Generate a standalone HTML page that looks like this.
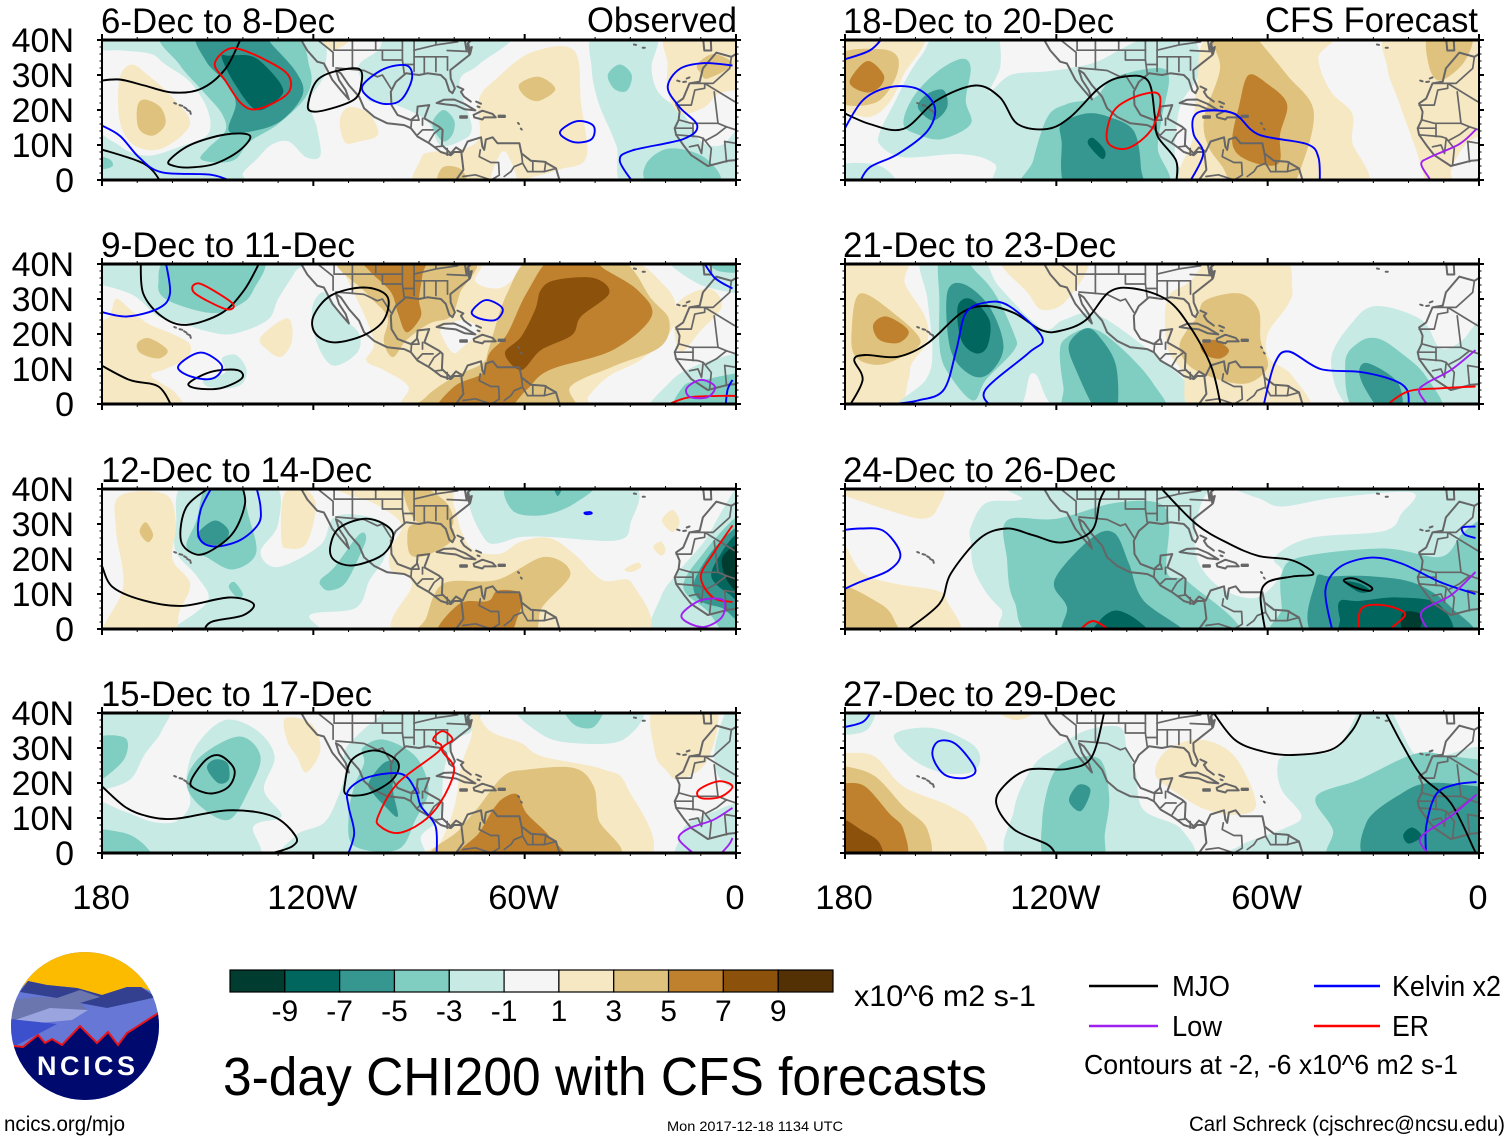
<!DOCTYPE html>
<html lang="en">
<head>
<meta charset="utf-8">
<title>3-day CHI200 with CFS forecasts</title>
<style>
html,body{margin:0;padding:0;background:#fff;}
svg{display:block;}
text{font-family:"Liberation Sans",sans-serif;fill:#000;}
</style>
</head>
<body>
<svg id="root" xmlns="http://www.w3.org/2000/svg" width="1510" height="1141" viewBox="0 0 1510 1141">
  <defs><clipPath id="logo-clip"><circle cx="85" cy="1026" r="74"/></clipPath></defs>
  <g id="panels"></g>
  <g id="colorbar"></g>

  <g clip-path="url(#logo-clip)">
    <rect x="10" y="951" width="150" height="150" fill="#6677d5"/>
    <path d="M10 951H160V995L141 987L127 987L102 995L77 988L47 985L28 981L10 1000Z" fill="#fdbb00"/>
    <path d="M28 981L47 985L77 988L102 995L127 987L141 987L160 1000L157 997L107 1008L80 1003L57 998L20 992Z" fill="#333f8f"/>
    <path d="M12 1020L12 1000L37 997L57 998L80 990L100 997L80 1003L88 1010L50 1012L15 1021Z" fill="#6a76ad"/>
    <path d="M15 1020L50 1008L88 1010L72 1020L17 1025Z" fill="#9aa5e0"/>
    <path d="M10 1019L57 1024L17 1045L10 1045Z" fill="#3c4fcc"/>
    <path d="M10 1047L23 1047L38 1035L45 1043L52 1039L62 1045L80 1026L97 1043L108 1032L118 1045L127 1033L160 1012V1105H10Z" fill="#000a6e"/>
    <path d="M14 1046L23 1047L38 1035L45 1043L52 1039L62 1045L80 1026L97 1043L108 1032L118 1045L127 1033L160 1012" fill="none" stroke="#e8141c" stroke-width="2"/>
    <text x="86" y="1075" text-anchor="middle" font-size="27" font-weight="bold" style="fill:#fff" textLength="98" lengthAdjust="spacing">NCICS</text>
  </g>

  <text x="223" y="1095" font-size="54" textLength="764" lengthAdjust="spacingAndGlyphs">3-day CHI200 with CFS forecasts</text>
  <text x="854" y="1006" font-size="30" textLength="182" lengthAdjust="spacingAndGlyphs">x10^6 m2 s-1</text>

  <line x1="1089" y1="986" x2="1158" y2="986" stroke="#000" stroke-width="2.5"/>
  <text x="1172" y="996" font-size="29" textLength="58" lengthAdjust="spacingAndGlyphs">MJO</text>
  <line x1="1314" y1="986" x2="1380" y2="986" stroke="#0000ff" stroke-width="2.5"/>
  <text x="1392" y="996" font-size="29" textLength="109" lengthAdjust="spacingAndGlyphs">Kelvin x2</text>
  <line x1="1089" y1="1026" x2="1158" y2="1026" stroke="#a020f0" stroke-width="2.5"/>
  <text x="1172" y="1036" font-size="29" textLength="50" lengthAdjust="spacingAndGlyphs">Low</text>
  <line x1="1314" y1="1026" x2="1380" y2="1026" stroke="#ff0000" stroke-width="2.5"/>
  <text x="1392" y="1036" font-size="29" textLength="37" lengthAdjust="spacingAndGlyphs">ER</text>
  <text x="1084" y="1074" font-size="28" textLength="374" lengthAdjust="spacingAndGlyphs">Contours at -2, -6 x10^6 m2 s-1</text>

  <text x="4" y="1131" font-size="21" textLength="121" lengthAdjust="spacingAndGlyphs">ncics.org/mjo</text>
  <text x="667" y="1131" font-size="14" textLength="176" lengthAdjust="spacingAndGlyphs">Mon 2017-12-18 1134 UTC</text>
  <text x="1189" y="1131" font-size="21" textLength="316" lengthAdjust="spacingAndGlyphs">Carl Schreck (cjschrec@ncsu.edu)</text>
</svg>

<script>
// All longitudes are degrees east of the date line (0 = 180, 60 = 120W, 120 = 60W, 180 = 0); latitudes in degrees N.
const lonTicks = [0, 60, 120, 180];
const lonTickLabels = ['180', '120W', '60W', '0'];
const latTicks = [0, 10, 20, 30, 40];
const latTickLabels = ['0', '10N', '20N', '30N', '40N'];
const colorbarLevels = [-5, -4, -3, -2, -1, 0, 1, 2, 3, 4, 5];
const colorbarTicks = ['-9', '-7', '-5', '-3', '-1', '1', '3', '5', '7', '9'];
const levelColors = ['#003c30', '#01665e', '#35978f', '#80cdc1', '#c7eae5', '#f5f5f5', '#f6e8c3', '#dfc27d', '#bf812d', '#8c510a', '#543005'];
const panelTitles = ['6-Dec to 8-Dec', '9-Dec to 11-Dec', '12-Dec to 14-Dec', '15-Dec to 17-Dec', '18-Dec to 20-Dec', '21-Dec to 23-Dec', '24-Dec to 26-Dec', '27-Dec to 29-Dec'];
const panelTitleWidths = [234, 254, 271, 271, 271, 273, 273, 273];

// Filled contour regions: [level, [lon, lat, lon, lat, ...]]
const fills1 = [
 [-1,[-3,42,-3,37.5,6,37,14,36,18,33,25,28,30,20,30,13,22,9.5,14,7,8,8,3,11,-3,13,-3,-3,38,-3,40,2,44,6,48,10,53,11,58,6.5,62,7,61,15,59,22.7,63.5,32,56,42]],
 [-1,[116,42,107,33,101.5,28,105,15,101.5,11,96,10,93,16,89,19,82.5,21.7,75.7,22.7,73.6,28.4,73,33,78.4,37,84,42]],
 [-1,[140,42,139,32,141,22,146,10,150,-3,183,-3,183,16,176,10,170,11,167,16,164,20,158,25,156,32,157,42]],
 [-2,[18,42,22,33,29,25,34,19,35,14,30,9,28,6,33,5,38,6,42,11,50,16,58,24,59,32,52,42]],
 [-2,[94,17,97,20,100,17,99.5,13,97,11,94.4,14]],
 [-2,[143.6,30,147,33,150.4,30,149,25.5,145.5,26]],
 [-2,[154.5,4.6,161,9,171,6.5,175,-1,156,-1]],
 [-2,[-3,7,2,6,3,4,0,3,-3,3]],
 [-3,[27.5,42,29.5,34,35,28,38,22,36,14,43,14,51,17,57,24.5,55,31,48,39,46,42]],
 [-4,[34,35,38,27,44,20,50.5,23.6,51,27,46,33,42,35.5,36,35.5]],
 [1,[5,29,8.4,33,13,30,20,23.6,25,16,17,9,9,10,5,17]],
 [2,[10,20.8,12,23,16.6,20.8,18,16,14.5,12.7,10.5,14.6]],
 [1,[134,37,136,22,137.5,6.5,130,3,120,0,118,-3,90,-3,90.5,6,93.5,8,101,8.5,107,12,107,23,112,29,122,36.5]],
 [0,[110.4,-2,112.5,6.5,115,7.5,118,-2]],
 [2,[118.5,27.4,124,29.5,128.7,26,124,22.6,120,24]],
 [2,[95.4,-2,96.7,3.6,102,3,103.5,-2]],
 [1,[161,42,160.6,33,160.6,25.5,164,19,171,20.8,175,24.6,183,28,183,42]],
 [2,[169,33,173.6,36,179,33,172,29,170,30.5]],
 [1,[62,41,65,37,70,39.5,70,42,62,42]],
 [1,[67.5,17,70,20.8,75.7,19,78.4,13,73,11,69,10.8]]
];
const fills2 = [
 [-1,[-3,42,57,42,55,38,50,30,47,24,37,20,29,21,23,23,16,25,9,31,0,34,-3,34]],
 [-1,[62,31.7,59.6,26.9,61,17.4,65.6,11,72.4,14.6,73,20,68.4,24.9,64.7,30.6]],
 [-1,[35,9,34,13,38,14,41,10,40,6,36,4.5,30,5,29,7]],
 [-1,[156,-3,161,6,168,10.7,180,14.5,183,15,183,-3]],
 [-1,[161,42,169,34.5,180,31.6,183,31,183,42]],
 [-2,[20,42,16,34.5,18.6,29.7,31,26,39,28.3,43,32.6,45,42]],
 [-2,[163,-3,165,5,171,6.9,180,8.8,183,9,183,-3]],
 [-2,[171,42,175,38,183,38,183,42]],
 [1,[-3,20,2,25,4,30,8,27,13,23,20,20,25,17,24,13,18,10,14,8,21,3,22,-3,-3,-3]],
 [2,[10,17.3,13.4,18.8,18.6,15.4,16,13,11,14.5]],
 [1,[45,19,52.6,24.5,54,18.3,51,13.5,47,15.4]],
 [1,[66,42,68,39,77,19,75,12.5,80,9.7,87,5,88,-3,136,-3,138,2,144,8,153,12.6,161,20,163,27,160,33.5,148,42,123,42,116.5,35.4,112,33,106,35,105,42]],
 [0,[96.5,21.7,102.5,24,107,21,102.5,16.3,99.7,14.6,96.8,18.9]],
 [1,[163,28,172,33,176,28,170,21,164,15]],
 [2,[67.6,42,75,31.7,81,25,80,18,82.6,13.4,86.5,18.3,93,23,99,25,101.6,31.7,104.5,42]],
 [2,[123,42,115,31.6,110,16.4,108,11.6,100,7.8,92,2,90.5,-3,132,-3,133,5,145,10.7,158.6,16.4,161,24,156,30,146,42]],
 [3,[74,42,76,38,82,32,84,26,86.5,20.5,90.5,25,90,30,91,37,91,42]],
 [3,[139.6,42,128,42,120.5,31.6,115,20,110,14.5,108,8.8,100,5,95,-3,112.4,-3,120.5,4,127,9.7,145,15.4,156,25,152,32.6,142,39]],
 [4,[124.6,32.6,128.7,35.4,139.6,36,144,31.6,136,25,133.4,19.7,124.6,15.4,119,9.7,114.4,14.5,119,19.2,123,27]]
];
const fills3 = [
 [-1,[24,42,21,30,21,22,27,15,30,8,20,0,18,-3,61,-3,59,4,72,6,76,14,80,20,82,28,76,32,66,32,62,24,50,17.7,45,22,50,30,48,42]],
 [-1,[107,42,109,25.3,119,26.3,127,26.3,146,25.3,150,30,149,42]],
 [-1,[157,-3,158.6,9,164,16.8,171,25,175,32,180,40,183,40,183,-3]],
 [-2,[30,42,26.8,31,24,23.4,29.5,20.6,37,17,43.7,21.5,41.7,32,38.3,42]],
 [-3,[27,27,32,31,36,28,34,24.4,29.5,24.4]],
 [-2,[36,12,37.6,13.4,40,10,38.4,9]],
 [-2,[62,14,66,17.7,73,27,75,26,73,20.6,69,13,64.7,11,62.5,12]],
 [-2,[116,42,116.5,33.9,125,32.5,134,35.8,139.5,42]],
 [-3,[128,42,129.4,38,131,42]],
 [-2,[165,12,171,22,180,32,183,32,183,-3,178,-3,172,5]],
 [-3,[168,13,173,22,180,29,183,29,183,3,176,6,170,8]],
 [-4,[173,15,176,22,180,27,183,27,183,8,178,10]],
 [-5,[176,20,180,24,183,24,183,10,178,13]],
 [1,[5,38,18,38.5,21,30,20,20,25,13,22,5,19,-3,0,-3,6,12,4,28]],
 [2,[10.7,27.7,12.4,30.5,14.5,27,13,24.8]],
 [1,[51,35,52.6,39.6,58,39.6,60.7,35,58,24.4,52.6,23,51,25]],
 [1,[65,42,69,38.7,77,36,85,30,82,23,82,17,88,13,86,-3,151,-3,150.5,13,142,14,134,21.5,127,26,119,25,113,21.5,105.6,22.5,102,28,100,35,96,42]],
 [2,[87,28.7,90.6,30,98.7,29.6,99.4,25.3,92,21,87.4,21.5]],
 [2,[85,42,89,31,99,29,98,35.8,89,42]],
 [2,[90,-3,92,3,97,13,112,14,125.6,20.6,133,15.8,125,6.3,120,-3]],
 [3,[95.4,-2,101.5,7.2,109.6,8,112.4,11,119,10,118,3.4,113.7,-2]],
 [1,[159,31,162,34,164,30.6,162,27.7]],
 [1,[156.5,23.4,158.7,25,160,22.5,158.7,21]],
 [1,[148.4,17,152,19,153,17.7,150.4,16.3]]
];
const fills4 = [
 [-1,[-3,42,18,42,17,35,12,28,8,21,0,18,-3,18]],
 [-1,[27,31,35,38,44,35,49,27.6,46,18,51,10.5,43,7.6,42,-3,-3,-3,-3,14,6,12,14,9,21,9,25,14,24,22]],
 [-1,[52,-3,55,5,63,8.6,67,16,69,23,69,29.5,74,35,80,40,82,42,106,42,105,35,100,32,97,23,96,10.5,90.6,4.8,89,-3]],
 [-1,[119,42,124.6,34,134,31.4,148,32.4,152,42]],
 [-1,[183,42,178,42,174,30,175,22,180,18,183,18]],
 [-1,[164,-2,164,4,166.6,8.6,175,12.4,180,14.3,183,15,183,-2]],
 [-2,[131.4,42,134,36.7,139.6,36,142,42]],
 [-2,[-3,32,6.4,33,6.4,27,0,21,-3,20]],
 [-2,[-3,6,5,6,10,4,14,0,15,-3,-3,-3]],
 [-2,[24,20,28,27.6,39,33.3,45,27.6,41.7,18,36,9.5,28,13.3]],
 [-3,[29.8,24.3,32,26.7,35.6,25.7,36,21,33,20]],
 [-2,[74,30,80,32.4,89,27.6,92.7,18,89,9.5,84,1,71.6,2,70,10.5,71.6,19,74.4,25.7]],
 [-3,[75.7,20,80,25.7,84,25.7,82.5,19,84,10.5,80.4,13.3,77,17]],
 [1,[52,38.5,59.4,37,62,29.5,58,23,55.3,27.6,52.6,32]],
 [1,[105,42,110,35,119,31.4,125,27.6,142,24,149,19,153,-3,91,-3,96,3,100,13,102,25,105,34]],
 [2,[95.4,-2,101.5,6.7,107,13.3,114,22,120.5,23.8,134,24.3,139.6,19,141,9.5,145,-2]],
 [3,[101.5,-2,107,5.7,111,12.4,114,15.7,118,16.7,120.5,11.4,127,4.8,130,-2]],
 [1,[157,42,157,28.6,160,23.8,164,21,172,26.7,174,42]]
];
const fills5 = [
 [1,[-3,42,22,42,16.6,30,12.5,22,7,18,0,19.5,-3,20]],
 [2,[-2,35.5,9.8,37.4,15,35,14,28.4,8.4,22,-2,22.7]],
 [3,[1.6,29,6.4,34,11,30,9.8,26.5,6.4,25,2.3,26.5]],
 [-1,[27,42,22,36,18,30,14,22,10,14,10,10,16.6,6.5,33,7.4,42.5,4.6,46.6,-3,98,-3,94,5,94,14,95.5,22,100,29,101,35,97,42,84,40,72,34,64,32,57,31,47,30,41,25,44,32,44,39,43,42]],
 [-1,[-3,4,10,4,14.5,-3,-3,-3]],
 [-2,[16.6,16,19.3,23.6,26,30.8,33,34.6,35.7,32,34.3,22.7,35.7,16,27.5,11.7,20.7,13]],
 [-3,[20.7,20.8,23.4,24.6,28,25.7,29,20.8,25,17]],
 [-2,[52,-3,53.4,5.5,57.5,18,63,21.7,71,23.6,76.5,29.3,88.8,32,92,29,90,18,88.8,9,90,-3]],
 [-3,[63.6,-3,61.5,11,61.5,16,68.4,19,75,18,82,14,84,3.6,83,-3]],
 [-4,[69,10.3,70.4,12,73.8,8.4,73,6]],
 [1,[105,42,100,27.4,99,13,98,-3,146,-3,144,11,144,19,137.8,25.5,134.4,35,138,42]],
 [2,[104,42,106.5,32,102,18,103,10,107,4,112,-3,125,-3,130,5,133,20,125.5,30,117.4,40,116,42]],
 [3,[114.6,30,120,27.4,125.5,21.7,123.5,13,123,4.6,114.6,5.5,110,10.3,112,21.7]],
 [1,[155,42,154,32,157,23,162,9,166.5,-3,175,-3,172,2,176,10,183,17,183,42]],
 [2,[166,42,165.7,33,169,28.4,176,34,177.6,42]]
];
const fills6 = [
 [1,[-3,42,17,42,17,34.5,22.7,25,23.4,18,19,11.6,18,7,14,-3,-3,-3]],
 [2,[1.9,21,4.4,31.6,15,25,21.4,18.3,18,14.5,9.8,11.2,3,13.5]],
 [3,[8,22.6,11.8,25,18,21,15.3,17.5,9.8,18.3]],
 [-1,[22,42,23.4,30,24.8,15.4,23,7,14,-3,46.6,-3,53.4,8.8,63,-3,100,-3,98,5,85,16.4,71,25.7,62,24,56,21.6,43.8,33.5,38,42]],
 [1,[44.5,42,52,31.6,56,26.9,63,29.7,68.4,42]],
 [-2,[26.8,42,26.8,29.7,27,15,30,7.8,36.4,1,40,6.9,48,15.4,48,20,42.5,31.6,37,38,33,42]],
 [-3,[29,31.6,33.6,34.3,41,27.8,45,16.4,41,8.8,35.7,8.3,30,15.4]],
 [-4,[32,27.8,35.7,30,41,24,40.4,16.4,37,14.5,33,18.3]],
 [-2,[61,15,63,19,70,21.6,78,16.4,87.4,6,90,-3,64,-3,62,5]],
 [-3,[63.6,17,68.4,21.6,72.4,19,77,10.7,77,-3,72,-3,65.6,9.7]],
 [1,[105,42,98,35,91.5,30,91.5,16.4,96,8.8,100,-3,131,-3,127,8,120.5,13,120,20,125.5,28,127,33,124,42]],
 [2,[100,25,102.4,29.7,112,31.6,117.4,27,118,18.3,120,10.7,114.6,6,106.5,6.9,98,10.7,95,17]],
 [3,[101,16.9,105,18.3,109,15.4,106.5,13,102.4,14]],
 [-1,[138,11.6,144.6,24,151.4,28,163.7,24,169,16,175,18,180,24,183,24,183,-3,147,-3]],
 [-2,[142,11.6,146,17.7,151.4,18.7,158,14.5,165,7.8,169,-3,146,-3]],
 [-3,[146,9.7,148.7,11.6,157,6,158,-3,153,-3,147.6,4.5]]
];
const fills7 = [
 [1,[-3,42,26,42,26,34,22,31.5,14,33.4,0,38,-3,38.5]],
 [1,[-3,26,0,24,5,16,14,13,26,11,29,8,31,-3,-3,-3]],
 [2,[-2,12,10,7.2,14,2.5,14,-2,-2,-2]],
 [-1,[57,42,183,42,183,-3,58,-3,44,6,37,16,35.7,25,35.7,29,40,36,50,37]],
 [0,[105,40.5,100,32,100,20,107,11.5,117,9,124,16,122,20.5,132,26,153,28,158,33,161,39,139,37.5,124,35,117,37.5]],
 [-2,[46,31,60,31.5,76.5,36,89,36,92,30,91.5,16,98,13,111,-3,57.5,-3,48,8,46,20]],
 [-2,[124,15.8,129.6,20.6,153,23,169,20.6,175,27,180,31,183,31,183,-3,125,-3,124,6]],
 [-3,[59.5,14,70,26,76.5,27.4,80.6,18.7,84.7,8.2,97,-3,64,-3,63,6.3]],
 [-4,[72.4,2.5,77,5.3,83,2.5,86,-2,71,-2]],
 [-3,[133.7,14,138,15,150,15,162,13,172,6.3,177,-3,135,-3]],
 [-4,[140.5,8,146,8,157,9,168.7,7,171,-3,143,-3,140.5,3]],
 [-4,[141.7,13.5,146,13,149,11,146,10.5]],
 [-5,[158,4,161,5,164,3.4,162,-2,158.5,-2]]
];
const fills8 = [
 [-1,[-3,42,8,42,6,35,-3,34.5]],
 [-1,[14,33.8,24.8,35.7,35.7,31.4,38.4,26.7,35.7,23,27.5,23,19.3,26.7]],
 [1,[41.8,41,48,38,53,39.5,54,42,41,42]],
 [1,[-3,28.6,0,28.6,8.4,27.6,16.6,19,30,13.3,37,7.6,37.3,-3,-3,-3]],
 [2,[-3,24.8,0,24.8,8.4,22,16.6,13.3,23.4,6.7,22,-3,-3,-3]],
 [3,[-3,20,0,20,5.7,19,12.5,11.4,16.6,6.7,16.3,-3,-3,-3]],
 [4,[-3,9.5,0,9.5,4.4,6.7,9.8,2.9,9.8,-3,-3,-3]],
 [-1,[48,12.4,53.4,24.8,60,30,68.4,35,78,36,80,30,82.6,22.7,84.7,12.4,95.6,6.7,95.6,-3,49,-3]],
 [-2,[56,9.3,58.8,22,64,26.7,72.4,26.7,75,16.2,73.8,5.7,72.4,-3,57.5,-3]],
 [-3,[63.6,15,66.3,19.5,69.7,18,67,12]],
 [1,[88,22.8,91.5,29.5,101,32.4,110.6,27.6,116.7,14.3,112,11,102.4,12.4,92.9,18]],
 [-1,[110,-3,112,2,124,6.7,129.6,10.5,124,18,122.8,24.8,125.5,28,139,29.5,147,42,154,42,162,28,170,28,183,28,183,-3]],
 [-2,[133.7,16,146,21,162,28.4,172,27.6,180,26.7,183,26.7,183,-3,140,-3,138.5,6.7]],
 [-3,[148,8.6,158,17,166,20,180,19,183,19,183,-3,150,-3]],
 [-4,[158.5,5.2,161,7.3,163.7,4.8,160,2.7]]
];

// Wave contours: [kind, closed (1/0), [lon, lat, ...]]
const lines1 = [
 ['mjo',0,[-1,28.3,5,28.7,12,27,20,25,28,26,35,31.7,39.7,41]],
 ['mjo',1,[19,5.5,25,10,35,13,42,12.7,39,8.4,32,4.6,25,3.6,20.5,4]],
 ['mjo',0,[-1,9,12,4.6,17,-1]],
 ['mjo',1,[58.7,22.7,61,28.4,66,31,73,31.7,73.6,27.4,71.6,23,63.5,20,59,19.8]],
 ['kelvin',0,[-1,16,5,12.7,10.5,6.5,17,2.2,31,1.5,38,-1]],
 ['kelvin',1,[74,27,80,31.7,86.5,32.7,88,29,85,23,80.4,21.7,75.7,23.6]],
 ['kelvin',1,[130,13.6,134.8,16.8,139.5,15.5,139,11.7,134,10.8]],
 ['kelvin',0,[151,-1,147,5.5,150.4,8.4,165,11.7,169,15.5,164,20.8,160.6,26.5,164,31.7,171,33.4,179,32.7]],
 ['er',1,[32,33,35,37,39,37.4,47,34,53,29.8,52.6,24.6,44.4,20.3,39.7,21.7,35,28.4]]
];
const lines2 = [
 ['mjo',0,[11,41,11.7,31.6,17,25,24,22.6,34,26,40.4,32.6,45,41]],
 ['mjo',1,[60,25,65,31,74.4,33.3,81,30.7,80,24,74.4,19.7,66,17.6,60.7,20]],
 ['mjo',1,[24.7,6,31,9.2,38.4,9.7,39.7,7.3,33.6,4.5,26.8,4.5]],
 ['mjo',0,[-1,11.5,7.8,6.9,16,5,20,-1]],
 ['kelvin',0,[-1,26.5,7,25,16,27.3,19.3,31.6,18,41]],
 ['kelvin',1,[21.6,10.7,28,14.7,34,11,31.5,7.3,25.4,7.8]],
 ['kelvin',1,[105,26.4,109,29.7,113.7,27.3,111.7,24,107,24.5]],
 ['kelvin',0,[170.5,41,174,36,179,33]],
 ['kelvin',0,[177,-1,177.6,4,179,6.9]],
 ['er',1,[26,34,28.8,34,37,28.8,35.6,27,29.5,29.7,26,32]],
 ['er',0,[161,0,166.5,1.9,175,2.3,180,2.3]],
 ['low',1,[166,4.5,170,6.9,174,5,172,2,167,2]]
];
const lines3 = [
 ['kelvin',0,[31.5,41,28,34,27.5,26.3,31.6,23.6,39,25.3,44.4,30,45,34.9,43.7,41]],
 ['mjo',0,[31.5,41,24,34.9,22.4,25.3,26.8,21.3,32,23,37.6,28,40.6,35.8,39.7,41]],
 ['mjo',1,[64.8,23.4,67.5,29,75.7,31.5,82.5,27.7,80,21.5,71.6,18.2,66,19.6]],
 ['mjo',0,[0,18,3,12,11.7,8.2,22.7,6.6,36,9,43,7.2,40,3.9,31,2,28.8,-1]],
 ['er',0,[179,29.6,173.5,21.5,170,14.9,173.5,9,179,7.7]],
 ['low',1,[164.7,4.4,170,8.2,176.4,8.2,176,3.4,171,0.6,166,2]],
 ['kelvin',1,[137,33.2,138.5,33.4,139,33,137.5,32.8]]
];
const lines4 = [
 ['mjo',1,[25.4,21,29.6,26.7,33.6,27.8,37.6,23.8,36,19,31,17,26,18.6]],
 ['mjo',0,[-1,20,6.4,13.3,13,10.5,21,9.8,36,12.2,48.5,10.5,55,4.8,54,1.9,48.5,0]],
 ['mjo',1,[69,20,71,26.7,77.7,29.3,84,26,82.5,21,75.7,17,69.5,16.7]],
 ['kelvin',0,[69.6,-1,71.6,5.7,70,13.3,70,18,75.7,21.7,85,22.6,89,18,90.6,13.3,94.7,7.6,95,-1]],
 ['er',1,[78.4,10.5,84,20,96,29.5,94,32.4,96.7,34.8,99.5,32.4,96.5,29.5,100,23.8,96,14.3,90.6,8.6,84,5.7,79,7.6]],
 ['er',1,[169.4,18,175,20.5,179,19,175.5,16,170,15.7]],
 ['low',0,[179,12.9,173.6,9.5,166.6,7,163.7,4.3,166.6,1,169.4,-1]],
 ['low',0,[175,-1,178,2.4,179,4.3]]
];
const lines5 = [
 ['mjo',0,[-1,19.5,7,16,16.6,14.6,26,22.7,37,27,44,23.6,49,16,57.5,14.6,64,18,72.4,26.5,79,29.5,86,28.4,88,18,88.8,12.4,94,5.5,94,-1]],
 ['kelvin',0,[-1,34.2,7,37,11,41]],
 ['kelvin',0,[-1,13,5,22.7,12.5,26.5,20.7,26,25.5,20.8,23.4,14,15,7.4,7,3.6,4,-1]],
 ['kelvin',0,[97.6,-1,101.7,7.4,99,13,99,18,102.4,19.8,110.6,18.9,117.4,13,131,10.3,134.4,6.5,134.8,-1]],
 ['er',1,[75.8,18.9,80.6,23,88,25,89.5,21.7,86.7,14,80,9,74.5,11]],
 ['low',0,[179.3,14.6,174.5,10.3,166,6.5,163.6,4.6,165.7,0.8,167,-1]],
 ['low',0,[179,-1,180,0.8]]
];
const lines6 = [
 ['mjo',0,[1,-1,5,6.9,2.6,12.6,5.7,14,15,13.5,23.4,17.3,33,26,40,28,48,26,56,21,61.5,21,68.4,24,75,32,82,33,91.5,29.7,98,22,104,10.7,106.8,-1]],
 ['kelvin',0,[14,0,20.7,1,28,4,31.6,15.4,34.3,26,40,29,46.6,28,56,19,52,14.5,39.8,4,41.8,-1]],
 ['kelvin',0,[118.7,-1,122,11.6,126,15,135,10,146,9.2,155.5,6.9,159.6,4,160,-1]],
 ['er',0,[153,-1,159.6,3.5,169,4.5,179,5]],
 ['low',0,[179,15.4,172,9.7,165,5.9,163,3.5,166,-1]]
];
const lines7 = [
 ['mjo',0,[16.6,-1,26.8,7.2,30,15.8,38.4,26,46,28.7,53.4,26.8,61.5,24.7,70,28,72.4,36.8,74.5,41]],
 ['mjo',0,[89,41,99.7,30,109,24.4,117.4,20.9,127,19.6,133,15.8,127,15,120,13.4,118,9,119.4,-1]],
 ['mjo',1,[141.6,13.9,144.6,14.4,149.4,12,148.7,10.9,144.6,12]],
 ['kelvin',0,[-1,28.2,4.4,28.7,11,28,15.7,21.5,12.5,16.8,4.4,13.5,-1,11]],
 ['kelvin',0,[138.5,-1,136.4,11,140.5,17.7,149.4,20.4,158,18.7,169,13.4,179,10]],
 ['kelvin',0,[179,29.3,175.3,29,176,27,179,26]],
 ['er',0,[66,-1,70.4,2.3,76,-1]],
 ['er',0,[145.7,-1,146.6,5.8,152.8,6.8,159,4.4,155.5,0.6,154,-1]],
 ['low',0,[179,16.3,172,9.6,163.7,4.9,166,-1]]
];
const lines8 = [
 ['mjo',0,[60,-1,57.5,2.4,48,6.7,43,13.8,45,19,52,23.8,63,24,70,27.4,73.8,41]],
 ['mjo',0,[104,41,110.6,32.4,118.7,29,127,28,138,29.5,144,35,147,41]],
 ['mjo',0,[153,41,158,31.4,163.7,22,172,14.3,178.6,1,179.5,-1]],
 ['kelvin',0,[-1,35.8,5,37.4,7.8,41]],
 ['kelvin',1,[24.8,29,26.8,32,31.6,31,37,24,34.3,21.5,29,22,26,25]],
 ['kelvin',0,[165,-1,165,7.6,167.8,16.7,173,19.5,179.3,20.3]],
 ['low',0,[179.3,16.7,172,10.5,163.7,4.8,164.3,1.4,167,-1]]
];
const panelFills = [fills1, fills2, fills3, fills4, fills5, fills6, fills7, fills8];
const panelLines = [lines1, lines2, lines3, lines4, lines5, lines6, lines7, lines8];

// Geography (lon east of date line, lat)
const coasts = [
 [56,41,58.3,37,61.1,33.8,63,33.3,64,31.4,65.4,28.6,67.8,25.7,70.1,23,69.2,25.7,67.3,28.6,66.4,31.4,67.8,30.5,70.1,27.1,73,23.8,74.4,20.5,77.3,18,81,16.2,85.8,15.7,87.7,14.8,89.6,12.4,92.9,10.5,94.3,9.5,96.2,8,99,7.1,100,8,102,8,102.6,2.9,100.5,0],
 [92.9,21.4,89.6,21,89.4,18.6,87.7,17.1,83.9,18.6,82.2,21.4,82,25.2,83.4,28,86.3,30.5,90,30,92.4,30.5,96.2,30,97.6,28.6,98.6,25.5,99.5,24.8,100.2,26.2,99,29,98.9,31.4,101.9,33.8,104.3,35.7,103.8,39,106,41],
 [92.9,21.4,91.5,17.6,95.7,15.2,96.7,14.3,96.5,10,99,7.6,100.5,9.3,102.4,8.1,103.8,11,107.6,12.2,108,9.5,108.5,8.6,109,11.6,110.9,12.2,112.3,10.5,118.5,10.5,119.1,7.6,121.8,5.5,125.6,5.2,128.9,3.3,129.9,0],
 [170.6,41,171,37,173,37,172.8,41],
 [180,36,178.7,35.2,174.4,36.4,170.6,31.9,169.7,28.1,166.8,27.6,165,23.3,163,21.9,164,19.5,163.7,17.1,162.6,14.8,163,12.9,165.4,9.5,167.3,7.1,172,4,177.7,5.5,180,5.7],
 [103,40,103.5,37,104,39,104.5,36,105,38,104,37.5]
];
const borders = [
 [66.4,32,71.1,31.6,74.4,31.3,78.2,29.5,79.6,30,82,26.2],
 [65.9,41,65.9,37.1],[71.1,41,71.1,31.6],[77.7,41,77.7,37.1],[65.9,37.1,85.3,37.1],[60,41,65.6,36.5,65.6,32.5],
 [79.6,37.1,79.6,34.3,85.3,34.3,85.8,30.5],[85.3,37.1,85.3,34.3],[88.6,37.1,88.6,31],[88.6,35.2,98.1,35.2],[91.5,35.2,91.5,30.5],[94.8,35.2,94.8,31],[98.1,35.2,98.1,31.4],
 [88.6,37.1,94.8,38.6,101,39.5],[85.3,41,85.3,37.1],[88.6,41,88.6,37],[94.8,41,94.8,38.6],[98,37,104,36.7],[85.8,33,88.6,33],
 [87.7,14.8,87.9,17.1,90,17.1,89.6,18.6],[91,17.6,91,15.7],[89.6,12.9,91,14.3,94,14.3],[92.9,11,94.3,13.3,96.2,14.8],[94.8,9.5,96.7,9.7],[98,7.1,98,9],
 [107.4,8.6,107.1,6.7,110.4,5,112.6,5,112.8,1.4,110.5,0],[102.5,1,106,1.5,110.5,0],
 [119.1,7.6,119.4,4.8,117,3.8,116.1,2.4,114.2,1],[122.3,5.5,122.3,2.4],[126,5.2,125.6,2.4],[125.6,2.4,128.9,3.3],[119.4,4.8,120.8,2.4,122.3,2.4,125.6,2.4],
 [178.7,35.2,178.2,31.9,173.5,27.6,171.3,27.6,166.8,27.6],[171.1,27.6,171.1,26.2,168.3,25.7,167.3,21.4,163,21.4],[171.1,27.6,179.6,22.4],[173.8,25.2,174.9,16.2,167.3,16.2,164,17.1],
 [162.6,14.8,167.8,14.8],[167.8,16.2,167.8,12.4],[163,12.9,169.2,12.4,170.7,11.9,170.2,7.6,169.2,10,166.8,9.5],[170.7,11.9,173,9,172.5,4.3],[171.6,11.4,174.4,12.9,177.3,15.2,180,14.3],[176.8,11,180,10.5],[176.8,11,177.3,5.2],[174.9,16.2,177.3,15.2]
];
const islands = [
 [95,22,97,22.9,100,23,103,21.7,106,19.9,103,20.2,100.5,21.3,97.5,21.6,95,22],
 [105.5,18.6,108,19.8,110.9,18.9,111.8,17.9,108.5,17.9,108,17.3,105.7,17.9,105.5,18.6],
 [101.7,18.2,103.6,18.2,103.6,17.8,101.7,17.8,101.7,18.2],
 [112.6,18.4,114.4,18.4,114.4,18,112.6,18,112.6,18.4],
 [100.9,26.7,102.6,25.9,101.9,25.2,102.8,23.8,104.7,22.4],[106.2,22.4,107.6,21.8],[106.6,21,107.2,20.8],
 [118.1,16.3,118.4,16],[118.9,14.7,119.2,14.4],
 [20.5,22,21,21.8],[22,21.4,22.8,21.2],[23.3,20.8,24,20.4],[24.2,20,25,19.6,25.2,18.9],
 [163.3,28.4,164,28.2],[165,28,165.8,28.1],[166,29,166.8,29.3],[151,38.7,151.6,38.6],[153.5,37.8,154.1,37.8]
];

const NS = 'http://www.w3.org/2000/svg';
const panelLeft = [102, 102, 102, 102, 845, 845, 845, 845];
const panelTop = [40, 264, 489, 713, 40, 264, 489, 713];
const panelWidth = 634;
const panelHeight = 140;
const lineColors = { mjo: '#000000', kelvin: '#0000ff', low: '#a020f0', er: '#ff0000' };

function make(tag, attrs, parent) {
  const n = document.createElementNS(NS, tag);
  for (const k in attrs) n.setAttribute(k, attrs[k]);
  parent.appendChild(n);
  return n;
}
function pairs(flat) {
  const out = [];
  for (let i = 0; i + 1 < flat.length; i += 2) out.push([flat[i], flat[i + 1]]);
  return out;
}
function levelColor(level) {
  return levelColors[colorbarLevels.indexOf(level)];
}
function smoothPath(pts, closed) {
  const n = pts.length;
  const at = function (i) {
    if (closed) return pts[(i + n) % n];
    return pts[Math.max(0, Math.min(n - 1, i))];
  };
  let d = 'M' + pts[0][0].toFixed(1) + ' ' + pts[0][1].toFixed(1);
  const last = closed ? n : n - 1;
  for (let i = 0; i < last; i++) {
    const p0 = at(i - 1), p1 = at(i), p2 = at(i + 1), p3 = at(i + 2);
    const c1x = p1[0] + (p2[0] - p0[0]) / 6, c1y = p1[1] + (p2[1] - p0[1]) / 6;
    const c2x = p2[0] - (p3[0] - p1[0]) / 6, c2y = p2[1] - (p3[1] - p1[1]) / 6;
    d += 'C' + c1x.toFixed(1) + ' ' + c1y.toFixed(1) + ' ' + c2x.toFixed(1) + ' ' + c2y.toFixed(1) + ' ' + p2[0].toFixed(1) + ' ' + p2[1].toFixed(1);
  }
  return closed ? d + 'Z' : d;
}
function straightPath(pts) {
  return 'M' + pts.map(function (p) { return p[0].toFixed(1) + ' ' + p[1].toFixed(1); }).join('L');
}

const root = document.getElementById('root');
const defs = root.querySelector('defs');
const panelsGroup = document.getElementById('panels');

panelTitles.forEach(function (title, idx) {
  const left = panelLeft[idx], top = panelTop[idx];
  const xScale = function (lon) { return left + lon / 180 * panelWidth; };
  const yScale = function (lat) { return top + panelHeight - lat / 40 * panelHeight; };
  const project = function (flat) { return pairs(flat).map(function (p) { return [xScale(p[0]), yScale(p[1])]; }); };

  const g = make('g', {}, panelsGroup);
  
  

  const clip = make('clipPath', { id: 'clip-' + idx }, defs);
  make('rect', { x: left, y: top, width: panelWidth, height: panelHeight }, clip);

  const plot = make('g', { 'clip-path': 'url(#clip-' + idx + ')' }, g);
  
  

  const bg = make('rect', { x: left, y: top, width: panelWidth, height: panelHeight, fill: levelColor(0) }, plot);
  
  

  panelFills[idx].forEach(function (f) {
    const region = make('path', { d: smoothPath(project(f[1]), true), fill: levelColor(f[0]) }, plot);
    
    
  });

  const geo = make('g', { fill: 'none', stroke: '#666666', 'stroke-linejoin': 'round', 'stroke-linecap': 'round' }, plot);
  
  
  coasts.forEach(function (c) {
    const coast = make('path', { d: straightPath(project(c)), 'stroke-width': 2 }, geo);
    
    
  });
  borders.forEach(function (c) {
    const border = make('path', { d: straightPath(project(c)), 'stroke-width': 1.7 }, geo);
    
    
  });
  islands.forEach(function (c) {
    const island = make('path', { d: straightPath(project(c)), 'stroke-width': 2 }, geo);
    
    
  });

  panelLines[idx].forEach(function (l) {
    const wave = make('path', { d: smoothPath(project(l[2]), l[1] === 1), fill: 'none', stroke: lineColors[l[0]], 'stroke-width': 1.9 }, plot);
    
    
  });

  const axes = make('g', { stroke: '#000', fill: 'none' }, g);
  
  
  make('path', { d: 'M' + (left - 1) + ' ' + top + 'H' + (left + panelWidth + 1) + 'M' + (left - 1) + ' ' + (top + panelHeight) + 'H' + (left + panelWidth + 1), 'stroke-width': 3 }, axes);
  make('path', { d: 'M' + left + ' ' + top + 'V' + (top + panelHeight) + 'M' + (left + panelWidth) + ' ' + top + 'V' + (top + panelHeight), 'stroke-width': 2 }, axes);
  for (let lon = 0; lon <= 180; lon += 10) {
    const major = lonTicks.indexOf(lon) >= 0;
    const len = major ? 6 : 3;
    const w = major ? 2 : 1;
    make('line', { x1: xScale(lon), x2: xScale(lon), y1: top, y2: top - len, 'stroke-width': w }, axes);
    make('line', { x1: xScale(lon), x2: xScale(lon), y1: top + panelHeight, y2: top + panelHeight + len, 'stroke-width': w }, axes);
  }
  for (let lat = 0; lat <= 40; lat += 2) {
    const major = latTicks.indexOf(lat) >= 0;
    const len = major ? 5 : 2.5;
    const w = major ? 2 : 1;
    make('line', { x1: left, x2: left - len, y1: yScale(lat), y2: yScale(lat), 'stroke-width': w }, axes);
    make('line', { x1: left + panelWidth, x2: left + panelWidth + len, y1: yScale(lat), y2: yScale(lat), 'stroke-width': w }, axes);
  }

  const titleEl = make('text', { x: idx < 4 ? left - 1 : left - 2, y: top - 7, 'font-size': 35.5, textLength: panelTitleWidths[idx], lengthAdjust: 'spacingAndGlyphs' }, g);
  titleEl.textContent = title;
  
  

  if (idx < 4) {
    latTicks.forEach(function (lat, i) {
      const t = make('text', { x: 74, y: yScale(lat) + 12, 'font-size': 34, 'text-anchor': 'end' }, g);
      t.textContent = latTickLabels[i];
      
      
    });
  }
  if (idx === 3 || idx === 7) {
    lonTicks.forEach(function (lon, i) {
      const t = make('text', { x: xScale(lon) - 1, y: 909, 'font-size': 34.5, 'text-anchor': 'middle' }, g);
      t.textContent = lonTickLabels[i];
      
      
    });
  }
});

const obs = make('text', { x: 587, y: 32, 'font-size': 35.5, textLength: 150, lengthAdjust: 'spacingAndGlyphs' }, panelsGroup);
obs.textContent = 'Observed';


const cfs = make('text', { x: 1265, y: 32, 'font-size': 35.5, textLength: 213, lengthAdjust: 'spacingAndGlyphs' }, panelsGroup);
cfs.textContent = 'CFS Forecast';



const cbGroup = document.getElementById('colorbar');
const cbLeft = 230, cbTop = 970, cbHeight = 22, cbStep = 603 / colorbarLevels.length;
colorbarLevels.forEach(function (level, i) {
  const box = make('rect', { x: cbLeft + i * cbStep, y: cbTop, width: cbStep, height: cbHeight, fill: levelColor(level), stroke: '#000', 'stroke-width': 1.2 }, cbGroup);
  
  
});
colorbarTicks.forEach(function (label, i) {
  const t = make('text', { x: cbLeft + (i + 1) * cbStep, y: 1021, 'font-size': 30, 'text-anchor': 'middle' }, cbGroup);
  t.textContent = label;
  
  
});
</script>
</body>
</html>
